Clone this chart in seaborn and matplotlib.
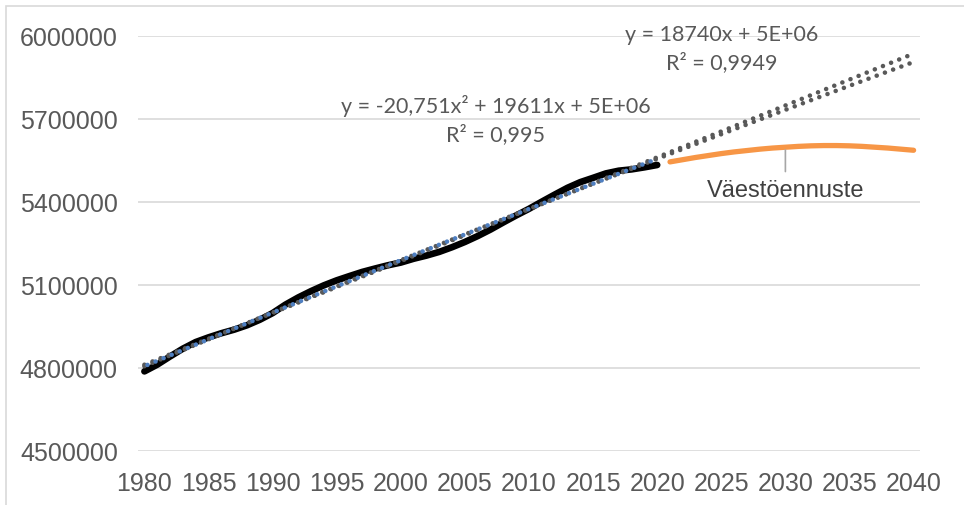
import numpy as np
import pandas as pd
import matplotlib
matplotlib.use("Agg")
import matplotlib.pyplot as plt
import seaborn as sns
from matplotlib.patches import Rectangle

# --- data ---
years_hist = list(range(1980, 2021))
population = [4787778, 4812150, 4841715, 4869858, 4893748, 4910664, 4925644, 4938602,
              4954359, 4974383, 4998478, 5029002, 5054982, 5077912, 5098754, 5116826,
              5132320, 5147349, 5159646, 5171302, 5181115, 5194901, 5206295, 5219732,
              5236611, 5255580, 5276955, 5300484, 5326314, 5351427, 5375276, 5401267,
              5426674, 5451270, 5471753, 5487308, 5503297, 5513130, 5517919, 5525292,
              5533793]
years_fc = list(range(2021, 2041))
forecast = [5545000, 5553000, 5561000, 5568000, 5575000, 5581000, 5586000, 5591000,
            5595000, 5598000, 5601000, 5603000, 5604000, 5604000, 5603000, 5601000,
            5598000, 5595000, 5591000, 5587000]
x_ticks = list(range(1980, 2041, 5))
y_ticks = [4500000, 4800000, 5100000, 5400000, 5700000, 6000000]
forecast_label = "Väestöennuste"
callout_year = 2030
lin_label = "y = 18740x + 5E+06\nR² = 0,9949"
poly_label = "y = -20,751x² + 19611x + 5E+06\nR² = 0,995"

sns.set_theme(style="white")
plt.rcParams['font.family'] = ['Liberation Sans', 'DejaVu Sans']

fig = plt.figure(figsize=(9.64, 5.06), dpi=100)
W, H = 964, 506
ax = fig.add_axes([138 / W, (H - 452) / H, (920 - 138) / W, (452 - 37) / H])

# chart border
fig.patches.append(Rectangle((6 / W, -0.1), 1.2, (H - 7) / H + 0.1, transform=fig.transFigure,
                             fill=False, edgecolor="#D9D9D9", linewidth=1.2, zorder=0))

df_hist = pd.DataFrame({"year": years_hist, "pop": population})
df_fc = pd.DataFrame({"year": years_fc, "pop": forecast})

# trendlines from data (index x = 1..n as in Excel)
xi = np.arange(1, len(years_hist) + 1)
lin = np.polyfit(xi, population, 1)
poly = np.polyfit(xi, population, 2)
xe = np.arange(1, len(years_hist) + 21)
years_ext = np.array(years_hist[0]) + xe - 1
df_lin = pd.DataFrame({"year": years_ext, "pop": np.polyval(lin, xe)})
df_poly = pd.DataFrame({"year": years_ext, "pop": np.polyval(poly, xe)})
df_poly_h = pd.DataFrame({"year": years_hist, "pop": np.polyval(poly, xi)})

for y in y_ticks:
    ax.axhline(y, color="#D9D9D9", lw=1.2, zorder=0)

sns.lineplot(data=df_hist, x="year", y="pop", ax=ax, color="black", lw=4.8,
             solid_capstyle="round", zorder=3)
sns.lineplot(data=df_fc, x="year", y="pop", ax=ax, color="#F79646", lw=3.8,
             solid_capstyle="round", zorder=3)
dot = (0, (0.01, 1.9))
sns.lineplot(data=df_lin, x="year", y="pop", ax=ax, color="#595959", lw=3.3,
             linestyle=dot, dash_capstyle="round", zorder=4)
sns.lineplot(data=df_poly, x="year", y="pop", ax=ax, color="#595959", lw=3.3,
             linestyle=dot, dash_capstyle="round", zorder=4)
l = sns.lineplot(data=df_poly_h, x="year", y="pop", ax=ax, color="#4F7FC0", lw=3.3,
                 zorder=5)
l.lines[-1].set_linestyle((3.1, (0.01, 1.9)))
l.lines[-1].set_dash_capstyle("round")

ax.set_xlim(1979.5, 2040.5)
ax.set_ylim(4500000, 6000000)
ax.set_xticks(x_ticks)
ax.set_yticks(y_ticks)
ax.set_xticklabels([str(v) for v in x_ticks])
ax.set_yticklabels([str(v) for v in y_ticks])
ax.tick_params(axis="both", length=0, labelsize=18, colors="#595959")
ax.tick_params(axis="y", pad=14.5)
ax.tick_params(axis="x", pad=14.5)
ax.set_xlabel("")
ax.set_ylabel("")
for s in ax.spines.values():
    s.set_visible(False)
ax.set_facecolor("none")
ax.grid(False)

# annotations
eqfont = dict(family=['Lato', 'DejaVu Sans'], fontsize=15.5, color="#595959",
              ha="center", va="center", linespacing=1.4)
fig.text(722 / W, 1 - 49 / H, lin_label, **eqfont)
fig.text(496 / W, 1 - 120 / H, poly_label, **eqfont)

# callout
ly = forecast[years_fc.index(callout_year)]
ax.annotate(forecast_label, xy=(callout_year, ly), xycoords="data",
            xytext=(callout_year, 1 - 191 / H), textcoords=("data", "figure fraction"),
            ha="center", va="center", fontsize=17, color="#404040",
            arrowprops=dict(arrowstyle="-", color="#A6A6A6", lw=1.2,
                            shrinkA=3, shrinkB=2))

fig.savefig("out.png", dpi=100)
